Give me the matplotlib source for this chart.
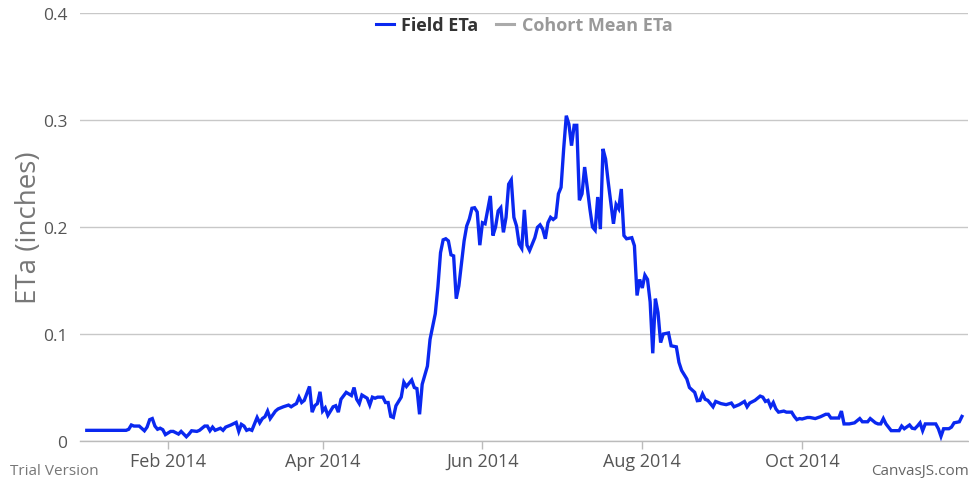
import matplotlib
matplotlib.use("Agg")
import matplotlib.pyplot as plt
import matplotlib.dates as mdates
from matplotlib.lines import Line2D
import pandas as pd

# Field ETa (inches/day)
dates = [
    "2014-01-01", "2014-01-16", "2014-01-17", "2014-01-18", "2014-01-19", "2014-01-21",
    "2014-01-23", "2014-01-24", "2014-01-25", "2014-01-26", "2014-01-27", "2014-01-28",
    "2014-01-29", "2014-01-30", "2014-01-31", "2014-02-02", "2014-02-03", "2014-02-05",
    "2014-02-06", "2014-02-08", "2014-02-09", "2014-02-10", "2014-02-12", "2014-02-13",
    "2014-02-15", "2014-02-16", "2014-02-17", "2014-02-18", "2014-02-19", "2014-02-21",
    "2014-02-22", "2014-02-23", "2014-02-25", "2014-02-27", "2014-02-28", "2014-03-01",
    "2014-03-02", "2014-03-03", "2014-03-04", "2014-03-05", "2014-03-06", "2014-03-07",
    "2014-03-08", "2014-03-09", "2014-03-10", "2014-03-11", "2014-03-12", "2014-03-14",
    "2014-03-15", "2014-03-17", "2014-03-19", "2014-03-20", "2014-03-21", "2014-03-22",
    "2014-03-23", "2014-03-24", "2014-03-25", "2014-03-27", "2014-03-28", "2014-03-29",
    "2014-03-30", "2014-03-31", "2014-04-01", "2014-04-02", "2014-04-03", "2014-04-05",
    "2014-04-06", "2014-04-07", "2014-04-08", "2014-04-10", "2014-04-12", "2014-04-13",
    "2014-04-14", "2014-04-15", "2014-04-16", "2014-04-18", "2014-04-19", "2014-04-20",
    "2014-04-21", "2014-04-22", "2014-04-24", "2014-04-25", "2014-04-26", "2014-04-27",
    "2014-04-28", "2014-04-29", "2014-05-01", "2014-05-02", "2014-05-03", "2014-05-04",
    "2014-05-05", "2014-05-06", "2014-05-07", "2014-05-08", "2014-05-09", "2014-05-11",
    "2014-05-12", "2014-05-14", "2014-05-15", "2014-05-16", "2014-05-17", "2014-05-18",
    "2014-05-19", "2014-05-20", "2014-05-21", "2014-05-22", "2014-05-23", "2014-05-25",
    "2014-05-26", "2014-05-27", "2014-05-28", "2014-05-29", "2014-05-30", "2014-05-31",
    "2014-06-01", "2014-06-02", "2014-06-04", "2014-06-05", "2014-06-06", "2014-06-07",
    "2014-06-08", "2014-06-09", "2014-06-10", "2014-06-11", "2014-06-12", "2014-06-13",
    "2014-06-14", "2014-06-15", "2014-06-16", "2014-06-17", "2014-06-18", "2014-06-19",
    "2014-06-21", "2014-06-22", "2014-06-23", "2014-06-24", "2014-06-25", "2014-06-26",
    "2014-06-27", "2014-06-28", "2014-06-29", "2014-06-30", "2014-07-01", "2014-07-02",
    "2014-07-03", "2014-07-04", "2014-07-05", "2014-07-06", "2014-07-07", "2014-07-08",
    "2014-07-09", "2014-07-10", "2014-07-11", "2014-07-12", "2014-07-13", "2014-07-14",
    "2014-07-15", "2014-07-16", "2014-07-17", "2014-07-18", "2014-07-19", "2014-07-21",
    "2014-07-22", "2014-07-23", "2014-07-24", "2014-07-25", "2014-07-26", "2014-07-28",
    "2014-07-29", "2014-07-30", "2014-07-31", "2014-08-01", "2014-08-02", "2014-08-03",
    "2014-08-04", "2014-08-05", "2014-08-06", "2014-08-07", "2014-08-08", "2014-08-09",
    "2014-08-11", "2014-08-12", "2014-08-14", "2014-08-15", "2014-08-16", "2014-08-18",
    "2014-08-19", "2014-08-21", "2014-08-22", "2014-08-23", "2014-08-24", "2014-08-25",
    "2014-08-26", "2014-08-28", "2014-08-29", "2014-08-31", "2014-09-02", "2014-09-04",
    "2014-09-05", "2014-09-07", "2014-09-09", "2014-09-10", "2014-09-11", "2014-09-13",
    "2014-09-15", "2014-09-16", "2014-09-17", "2014-09-18", "2014-09-19", "2014-09-20",
    "2014-09-21", "2014-09-22", "2014-09-24", "2014-09-25", "2014-09-27", "2014-09-28",
    "2014-09-29", "2014-09-30", "2014-10-01", "2014-10-03", "2014-10-04", "2014-10-06",
    "2014-10-08", "2014-10-10", "2014-10-11", "2014-10-12", "2014-10-14", "2014-10-15",
    "2014-10-16", "2014-10-17", "2014-10-19", "2014-10-21", "2014-10-23", "2014-10-24",
    "2014-10-26", "2014-10-27", "2014-10-29", "2014-10-30", "2014-10-31", "2014-11-01",
    "2014-11-02", "2014-11-04", "2014-11-05", "2014-11-07", "2014-11-08", "2014-11-09",
    "2014-11-11", "2014-11-12", "2014-11-13", "2014-11-14", "2014-11-15", "2014-11-16",
    "2014-11-17", "2014-11-19", "2014-11-21", "2014-11-22", "2014-11-23", "2014-11-24",
    "2014-11-26", "2014-11-27", "2014-11-28", "2014-11-30", "2014-12-01",
]
field_eta = [
    0.010, 0.010, 0.011, 0.015, 0.014, 0.014,
    0.0096, 0.013, 0.020, 0.021, 0.014, 0.011,
    0.012, 0.0106, 0.006, 0.009, 0.009, 0.0065,
    0.009, 0.004, 0.0065, 0.0096, 0.009, 0.010,
    0.014, 0.014, 0.0096, 0.013, 0.010, 0.012,
    0.010, 0.013, 0.015, 0.0174, 0.009, 0.0156,
    0.014, 0.010, 0.011, 0.010, 0.016, 0.022,
    0.017, 0.021, 0.0227, 0.028, 0.021, 0.028,
    0.030, 0.032, 0.0336, 0.032, 0.0336, 0.035,
    0.041, 0.036, 0.038, 0.051, 0.027, 0.033,
    0.035, 0.046, 0.028, 0.031, 0.024, 0.032,
    0.033, 0.027, 0.039, 0.0455, 0.0425, 0.050,
    0.039, 0.035, 0.043, 0.040, 0.0336, 0.041,
    0.040, 0.041, 0.041, 0.036, 0.036, 0.023,
    0.022, 0.033, 0.041, 0.055, 0.051, 0.054,
    0.057, 0.050, 0.049, 0.025, 0.053, 0.070,
    0.095, 0.119, 0.144, 0.176, 0.188, 0.189,
    0.187, 0.174, 0.173, 0.133, 0.145, 0.187,
    0.201, 0.2075, 0.2175, 0.218, 0.214, 0.183,
    0.204, 0.203, 0.229, 0.192, 0.200, 0.215,
    0.218, 0.195, 0.209, 0.240, 0.244, 0.209,
    0.201, 0.184, 0.180, 0.216, 0.183, 0.178,
    0.190, 0.1997, 0.202, 0.198, 0.189, 0.204,
    0.209, 0.207, 0.209, 0.231, 0.237, 0.273,
    0.304, 0.296, 0.276, 0.295, 0.295, 0.225,
    0.231, 0.256, 0.237, 0.217, 0.200, 0.197,
    0.228, 0.198, 0.273, 0.2635, 0.242, 0.203,
    0.221, 0.217, 0.2355, 0.192, 0.189, 0.190,
    0.1825, 0.136, 0.151, 0.143, 0.155, 0.151,
    0.130, 0.082, 0.133, 0.120, 0.092, 0.100,
    0.101, 0.089, 0.088, 0.0735, 0.066, 0.058,
    0.050, 0.0455, 0.0377, 0.038, 0.044, 0.039,
    0.038, 0.032, 0.037, 0.035, 0.034, 0.0355,
    0.032, 0.034, 0.037, 0.032, 0.0355, 0.038,
    0.042, 0.041, 0.037, 0.038, 0.032, 0.036,
    0.030, 0.027, 0.028, 0.027, 0.027, 0.023,
    0.020, 0.021, 0.0206, 0.022, 0.022, 0.021,
    0.0227, 0.025, 0.025, 0.0215, 0.0215, 0.0215,
    0.028, 0.016, 0.016, 0.017, 0.021, 0.018,
    0.018, 0.021, 0.017, 0.016, 0.016, 0.021,
    0.016, 0.0097, 0.0097, 0.0097, 0.014, 0.0115,
    0.015, 0.012, 0.0115, 0.014, 0.017, 0.0097,
    0.016, 0.016, 0.016, 0.0115, 0.0044, 0.0115,
    0.0115, 0.013, 0.017, 0.018, 0.023,
]
legend_labels = ["Field ETa", "Cohort Mean ETa"]
y_ticks = [0, 0.1, 0.2, 0.3, 0.4]

x = pd.to_datetime(dates)

plt.rcParams['font.family'] = ['Open Sans', 'DejaVu Sans']

fig = plt.figure(figsize=(9.7, 4.81), dpi=100)
ax = fig.add_axes([0.0825, 0.081, 0.9155, 0.890])

ax.plot(x, field_eta, color='#0a28f0', lw=2.4, solid_joinstyle='miter', zorder=3)

ax.set_xlim(pd.Timestamp("2013-12-29 10:00"), pd.Timestamp("2014-12-03 08:00"))
ax.set_ylim(0, 0.4)
ax.set_yticks(y_ticks)
ax.set_yticklabels(["0", "0.1", "0.2", "0.3", "0.4"])
ax.yaxis.grid(True, color='#c8c8c8', lw=1)
ax.set_axisbelow(True)

ax.xaxis.set_major_locator(mdates.MonthLocator(bymonth=[2, 4, 6, 8, 10]))
ax.xaxis.set_major_formatter(mdates.DateFormatter('%b %Y'))

for s in ['top', 'right', 'left']:
    ax.spines[s].set_visible(False)
ax.spines['bottom'].set_color('#bbbbbb')
ax.spines['bottom'].set_linewidth(1)

ax.tick_params(axis='x', colors='#bbbbbb', length=6, width=1, pad=2,
               labelcolor='#555555', labelsize=13)
ax.tick_params(axis='y', length=0, pad=9, labelcolor='#555555', labelsize=12.5)

ax.set_ylabel("ETa (inches)", fontsize=20, color='#777777', labelpad=0)

handles = [Line2D([], [], color='#0a28f0', lw=2.2),
           Line2D([], [], color='#aaaaaa', lw=2.2)]
leg = ax.legend(handles, legend_labels, loc='upper center', bbox_to_anchor=(0.5, 1.03),
                ncol=2, frameon=False, handlelength=1.0, handletextpad=0.4,
                columnspacing=1.0, prop={'weight': 'bold', 'size': 13})
leg.get_texts()[0].set_color('#333333')
leg.get_texts()[1].set_color('#999999')

fig.text(0.010, 0.012, "Trial Version", fontsize=11, color='#777777')
fig.text(0.999, 0.004, "CanvasJS.com", fontsize=11, color='#666666',
         ha='right', va='bottom')

fig.savefig("out.png", dpi=100)
